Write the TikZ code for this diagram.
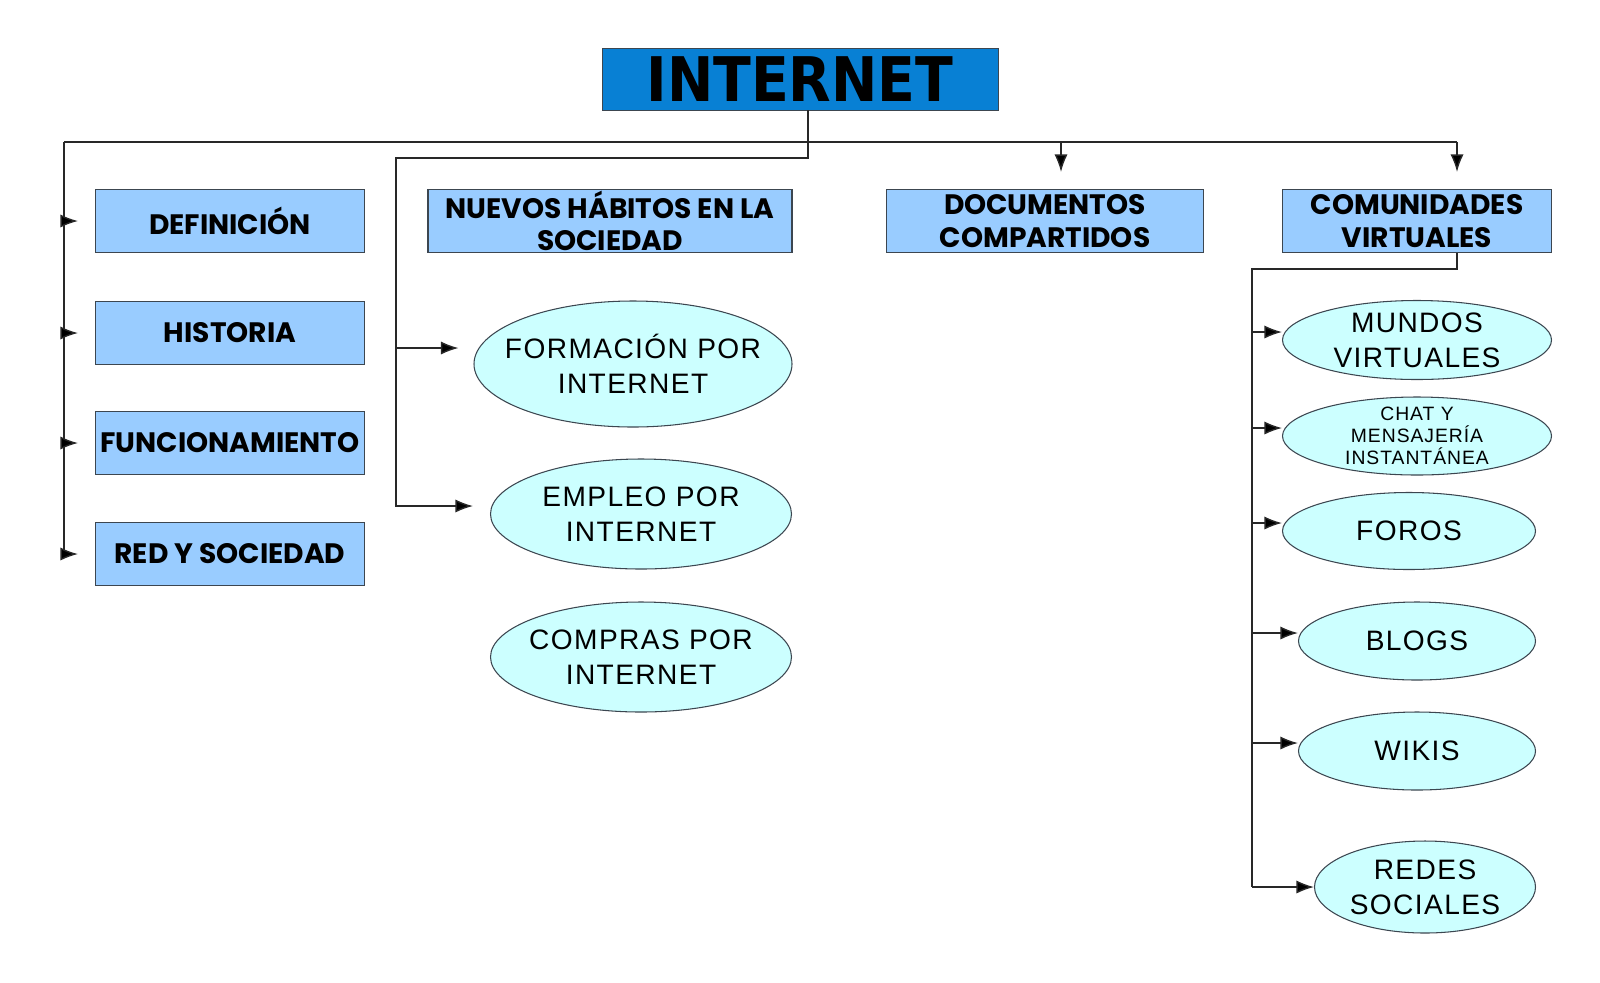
\documentclass[tikz,border=0pt]{standalone}
\usepackage{fontspec}
\usetikzlibrary{arrows.meta,shapes}
\newfontfamily\titlefont[FakeStretch=0.9]{DejaVu Sans}
\newfontfamily\boxfont{Poppins}
\newfontfamily\ovalfont[LetterSpace=5]{Liberation Sans}
\definecolor{titleblue}{RGB}{8,128,212}
\definecolor{boxblue}{RGB}{153,204,255}
\definecolor{ovalcyan}{RGB}{204,255,255}
\definecolor{edgegray}{RGB}{60,70,80}
\definecolor{linegray}{RGB}{40,40,40}
\tikzset{
  topic/.style={rectangle, draw=edgegray, fill=boxblue, line width=0.6pt,
    minimum width=53.8mm, minimum height=12.6mm, inner sep=0pt, align=center,
    font=\boxfont\bfseries\fontsize{16}{18.5}\selectfont},
  oval/.style={ellipse, draw=edgegray, fill=ovalcyan, line width=0.6pt, inner sep=0pt},
  ovaltext/.style={align=center, font=\ovalfont\fontsize{16}{20}\selectfont},
  conn/.style={draw=linegray, line width=0.8pt},
  arr/.style={conn, -{Latex[length=10pt,width=7.5pt,fill=black]}},
}
\begin{document}
\begin{tikzpicture}[x=0.2mm,y=-0.2mm]
\useasboundingbox (0,0) rectangle (1600,982);

% titulo
\node[draw=edgegray, fill=titleblue, minimum width=79.2mm, minimum height=12.4mm, inner sep=0pt,
  font=\titlefont\bfseries\fontsize{35}{40}\selectfont] (internet) at (800,79) {INTERNET};

% temas
\node[topic] (definicion) at (230,221) {DEFINICIÓN};
\node[topic] (historia) at (230,333) {HISTORIA};
\node[topic] (funcionamiento) at (230,443) {FUNCIONAMIENTO};
\node[topic] (redsoc) at (230,554) {RED Y SOCIEDAD};
\node[topic, minimum width=72.8mm] (habitos) at (610,221) {NUEVOS HÁBITOS EN LA\\SOCIEDAD};
\node[topic, minimum width=63.4mm] (documentos) at (1045,221) {DOCUMENTOS\\COMPARTIDOS};
\node[topic] (comunidades) at (1417,221) {COMUNIDADES\\VIRTUALES};

% habitos
\node[oval, minimum width=63.6mm, minimum height=25.2mm, label={[ovaltext]center:FORMACIÓN POR\\INTERNET}] (formacion) at (633,364) {};
\node[oval, minimum width=60.2mm, minimum height=22mm, label={[ovaltext]center:EMPLEO POR\\INTERNET}] (empleo) at (641,514) {};
\node[oval, minimum width=60.2mm, minimum height=22mm, label={[ovaltext]center:COMPRAS POR\\INTERNET}] (compras) at (641,657) {};

% comunidades
\node[oval, minimum width=53.8mm, minimum height=15.8mm, label={[ovaltext]center:MUNDOS\\VIRTUALES}] (mundos) at (1417,340) {};
\node[oval, minimum width=53.8mm, minimum height=15.6mm, label={[ovaltext, font=\ovalfont\fontsize{11}{12.5}\selectfont]center:CHAT Y\\MENSAJERÍA\\INSTANTÁNEA}] (chat) at (1417,436) {};
\node[oval, minimum width=50.6mm, minimum height=15.4mm, label={[ovaltext]center:FOROS}] (foros) at (1409,531) {};
\node[oval, minimum width=47.4mm, minimum height=15.6mm, label={[ovaltext]center:BLOGS}] (blogs) at (1417,641) {};
\node[oval, minimum width=47.4mm, minimum height=15.6mm, label={[ovaltext]center:WIKIS}] (wikis) at (1417,751) {};
\node[oval, minimum width=44.2mm, minimum height=18.4mm, label={[ovaltext]center:REDES\\SOCIALES}] (redes) at (1425,887) {};

% conectores
\coordinate (lefttop) at (64,142);
\coordinate (righttop) at (1457,142);
\coordinate (docdrop) at (1061,142);
\coordinate (habtop) at (396,158);
\coordinate (cvtrunk) at (1252,269);
\path ([yshift=3.2mm]formacion.west) coordinate (formin);
\path ([yshift=1.6mm]empleo.west) coordinate (empin);

\draw[conn] (lefttop) -- (righttop);
\draw[conn] (lefttop) -- (lefttop |- redsoc.west);
\foreach \b in {definicion,historia,funcionamiento,redsoc}
  \draw[arr, shorten >=3.4mm] (lefttop |- \b.west) -- (\b.west);
\draw[arr, shorten >=3.4mm] (docdrop) -- (docdrop |- documentos.north);
\draw[arr, shorten >=3.4mm] (righttop) -- (righttop |- comunidades.north);

\draw[arr, shorten >=3.4mm] ([xshift=1.6mm]internet.south) |- (habtop) |- (empin);
\draw[arr, shorten >=3mm] (habtop |- formin) -- (formin);

\draw[conn] (righttop |- comunidades.south) |- (cvtrunk) -- (cvtrunk |- redes.west);
\foreach \n in {mundos,chat,foros,blogs,wikis} {
  \path ([yshift=1.6mm]\n.west) coordinate (\n-in);
  \draw[arr] (cvtrunk |- \n-in) -- (\n-in);
}
\draw[arr] (cvtrunk |- redes.west) -- (redes.west);
\end{tikzpicture}
\end{document}
